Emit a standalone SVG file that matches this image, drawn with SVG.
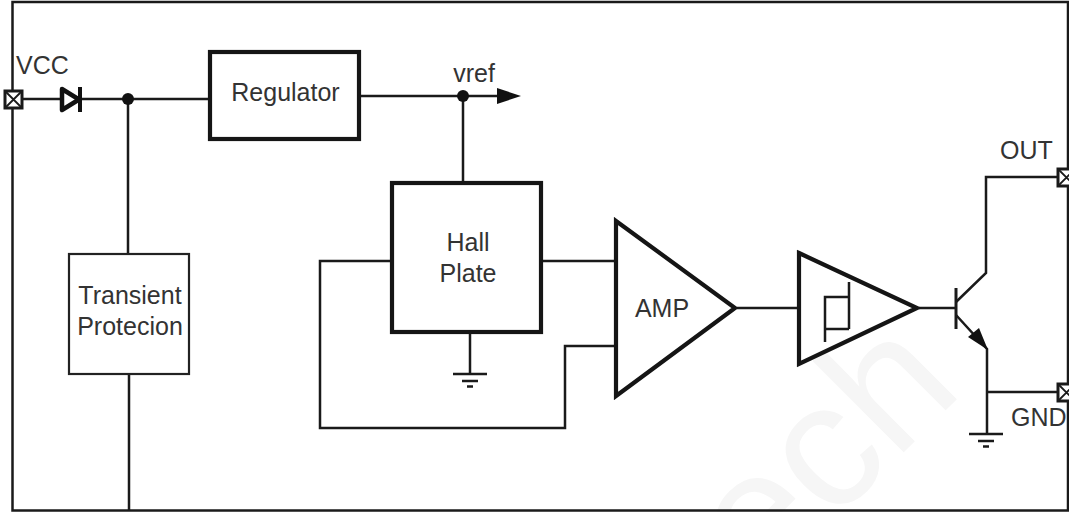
<svg xmlns="http://www.w3.org/2000/svg" width="1069" height="512" viewBox="0 0 1069 512">
<style>
text{font-family:"Liberation Sans",Arial,sans-serif;font-size:25px;fill:#333}
.m{text-anchor:middle}
.w{fill:none;stroke:#1a1a1a;stroke-width:2.5}
.b{fill:none;stroke:#151515;stroke-width:4.200}
.t{fill:#fff;stroke:#222;stroke-width:2.200}
.pin{fill:#fff;stroke:#1a1a1a;stroke-width:3}
.x{fill:none;stroke:#1a1a1a;stroke-width:1.800}
text.wm{font-size:178px;fill:#f6f6f6}
</style>
<defs>
<g id="gnd"><path class="w" d="M-17 0H17M-8 7H8"/><path d="M-3 12.500H3" stroke="#1a1a1a" stroke-width="2.500"/></g>
<g id="pinmark"><rect class="pin" x="-8" y="-8" width="17" height="17"/><path class="x" d="M-8-8L9 9M9-8L-8 9"/></g>
</defs>
<rect width="1069" height="512" fill="#fff"/>
<text class="wm" transform="translate(762 594) rotate(-45)">ech</text>
<rect x="12.500" y="2" width="1055.500" height="508.500" fill="none" stroke="#1a1a1a" stroke-width="2.500"/>
<g id="connectors">
<path class="w" d="M20 99H60M81 99H210"/>
<path class="w" d="M128 99V254M129 374V511"/>
<path class="w" d="M360 96H500M463 96V183"/>
<path class="w" d="M391 261H320V428H565V346H615M541 261H615"/>
<path class="w" d="M470 332V374"/>
<path class="w" d="M737 308H798M919 308H956"/>
<path class="w" d="M956 288V329" style="stroke-width:3"/>
<path class="w" d="M956 302L986 273V177H1058"/>
<path class="w" d="M956 315L987 349V434M987 392H1058"/>
<path d="M988 350L968 337L979 328Z" fill="#111"/>
<path d="M497 88L521 96L497 104Z" fill="#111"/>
<circle cx="128" cy="99" r="6" fill="#111"/>
<circle cx="463" cy="96" r="6" fill="#111"/>
<use href="#gnd" x="470" y="374"/>
<use href="#gnd" x="986" y="434"/>
</g>
<g id="vcc-pin"><use href="#pinmark" x="13" y="99"/><text x="16" y="74">VCC</text></g>
<g id="diode"><path d="M62 89L79 99.500L62 110Z" fill="#fff" stroke="#111" stroke-width="4.500" stroke-linejoin="round"/><path d="M80 87V112" stroke="#111" stroke-width="4"/></g>
<g id="regulator"><rect class="b" x="210" y="52" width="149" height="87"/><text class="m" x="285.500" y="101">Regulator</text></g>
<g id="vref"><text class="m" x="474" y="82">vref</text></g>
<g id="transient"><rect class="t" x="69" y="254" width="120" height="120"/><text class="m" x="130" y="304">Transient</text><text class="m" x="130" y="335">Protecion</text></g>
<g id="hall"><rect class="b" x="392" y="183" width="149" height="149"/><text class="m" x="468" y="251">Hall</text><text class="m" x="468" y="282">Plate</text></g>
<g id="amp"><path class="b" d="M616 221L735 308L616 396Z"/><text class="m" x="662" y="317">AMP</text></g>
<g id="schmitt"><path class="b" d="M799 253L917 308L799 364Z"/><path class="w" d="M849 282V329M849 297H825V342M825 329H849"/></g>
<g id="out-pin"><use href="#pinmark" x="1066" y="177"/><text x="1000" y="159">OUT</text></g>
<g id="gnd-pin"><use href="#pinmark" x="1066" y="392"/><text x="1011" y="426">GND</text></g>
</svg>
